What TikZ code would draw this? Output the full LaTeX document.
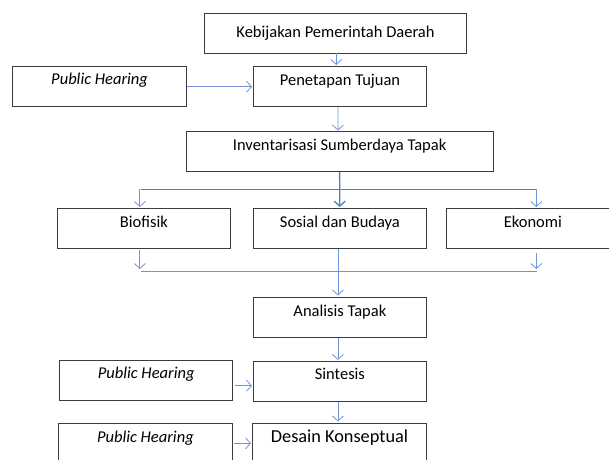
\documentclass[tikz,border=0pt]{standalone}
\usepackage{fontspec}
\setmainfont{Carlito}
\usetikzlibrary{arrows.meta,calc}
\definecolor{boxline}{HTML}{3C3C3C}
\definecolor{arrblue}{HTML}{6E94D8}
\definecolor{brblue}{HTML}{4F7FC0}
\tikzset{
  box/.style={draw=boxline, line width=1pt, minimum width=#1, minimum height=40pt,
    inner sep=0pt, font=\fontsize{16.5}{19}\selectfont, text height=10pt, text depth=12.5pt},
  box/.default=173.5pt,
  conn/.style={draw=arrblue, line width=0.8pt, -{Straight Barb[length=5pt,width=11pt,line width=0.8pt]}},
  connthick/.style={draw=brblue, line width=1.3pt, -{Straight Barb[length=5pt,width=11pt,line width=1.3pt]}},
  bus/.style={draw=brblue, line width=1.3pt},
  bus2/.style={draw=arrblue, line width=0.8pt}
}
\begin{document}
\begin{tikzpicture}[x=1pt,y=-1pt]
\useasboundingbox (0,0) rectangle (609,459);
% boxes
\node[box=262.4pt, text height=11pt, text depth=3pt] (keb) at (335.5,33) {Kebijakan Pemerintah Daerah};
\node[box] (pen) at (340,86.5) {Penetapan Tujuan};
\node[box] (ph1) at (99.6,86) {\itshape Public Hearing};
\node[box=307.2pt] (inv) at (339.6,151.7) {Inventarisasi Sumberdaya Tapak};
\node[box] (bio) at (143.9,228.3) {Biofisik};
\node[box] (sos) at (339.9,228.3) {Sosial dan Budaya};
\node[box] (eko) at (532.8,228.3) {Ekonomi};
\node[box] (ana) at (339.9,317.3) {Analisis Tapak};
\node[box] (sin) at (339.9,381) {Sintesis};
\node[box] (ph2) at (146.2,380) {\itshape Public Hearing};
\node[box, text height=12pt, text depth=13pt, font=\fontsize{18.3}{21}\selectfont] (des) at (339.5,443.3) {Desain Konseptual};
\node[box] (ph3) at (145.4,443.3) {\itshape Public Hearing};
% coordinates
\coordinate (bl) at (141,189.3);
\coordinate (br) at (537,189.3);
\coordinate (cl) at (141,271);
\coordinate (cr) at (537,271);
\coordinate (a1) at (139.8,189.3);
\coordinate (a2) at (536.3,189.3);
\coordinate (b1) at (139.8,250);
\coordinate (b2) at (536.3,253.3);
% connectors
\draw[conn] (336.3,53.3) -- (336.3,65);
\draw[conn] (ph1.east |- 0,86.7) -- (252,86.7);
\draw[conn] (pen.south) ++(-2,0) -- (337.9,130.5);
\draw[connthick] (inv.south) -- (339.8,207);
\draw[bus] (bl) -- (br);
\draw[conn] (a1) -- (139.8,207);
\draw[conn] (a2) -- (536.3,207);
\draw[conn] (b1) -- (139.8,269);
\draw[conn] (b2) -- (536.3,269);
\draw[bus2] (cl) -- (cr);
\draw[conn] (sos.south) ++(-2,0) -- (337.9,295.5);
\draw[conn] (ana.south) ++(-2,0) -- (337.9,360);
\draw[conn] (235,385.7) -- (252,385.7);
\draw[conn] (sin.south) ++(-2,0) -- (337.9,421.5);
\draw[conn] (234,443.3) -- (251,443.3);
\end{tikzpicture}
\end{document}
